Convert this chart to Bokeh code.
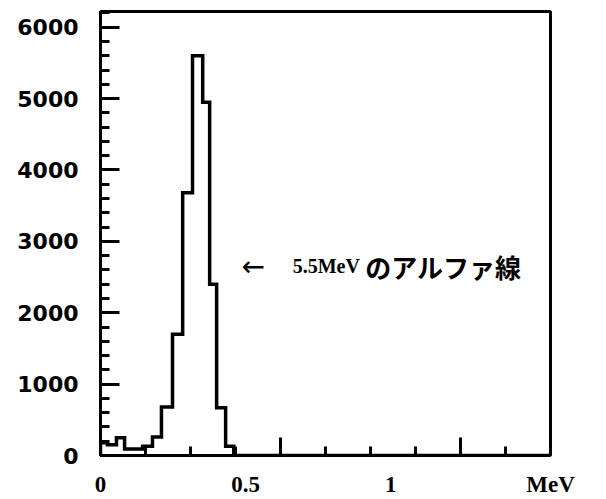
from bokeh.plotting import figure
from bokeh.models import FixedTicker, SingleIntervalTicker, LinearAxis, Range1d, Label
from bokeh.embed import file_html
from bokeh.resources import INLINE

# ---- data ----
bin_edges = [0.0, 0.024, 0.055, 0.083, 0.114, 0.145, 0.179, 0.210, 0.248,
             0.283, 0.317, 0.352, 0.376, 0.400, 0.431, 0.459]
counts = [180, 150, 250, 90, 90, 130, 260, 680, 1700, 3680, 5600, 4950, 2400, 670, 130]

x_label_ticks = [0.0, 0.5, 1.0]
x_label_texts = ["0", "0.5", "1"]
X_MAX = 1.55
Y_MAX = 6220
y_major_interval = 1000
y_minor_count = 5
x_tick_divisions = 10
x_tall_every = 4

annot_arrow = "←"
annot_energy = "5.5MeV"
annot_jp = "のアルファ線"
unit_text = "MeV"

# ---- figure ----
p = figure(width=606, height=499, output_backend="svg", toolbar_location=None,
           x_range=Range1d(0, X_MAX), y_range=Range1d(0, Y_MAX),
           min_border_left=100, min_border_right=56, min_border_top=11, min_border_bottom=43)
p.background_fill_color = "white"
p.border_fill_color = "white"
p.xgrid.visible = False
p.ygrid.visible = False
p.outline_line_color = "black"
p.outline_line_width = 3

# histogram outline as step path built from the data
xs, ys = [bin_edges[0]], [0]
for i, c in enumerate(counts):
    xs += [bin_edges[i], bin_edges[i + 1]]
    ys += [c, c]
xs += [bin_edges[-1], X_MAX]
ys += [0, 0]
p.line(xs, ys, line_color="black", line_width=3.5, line_join="miter")

# x tick marks (ticks only, nearest the frame)
step = X_MAX / x_tick_divisions
tall = [k * step for k in range(1, x_tick_divisions) if k % x_tall_every == 0]
short = [k * step for k in range(1, x_tick_divisions) if k % x_tall_every != 0]
xa = p.xaxis[0]
xa.ticker = FixedTicker(ticks=tall, minor_ticks=short)
xa.major_tick_in = 18
xa.major_tick_out = 0
xa.minor_tick_in = 9
xa.minor_tick_out = 0
xa.major_tick_line_width = 3
xa.minor_tick_line_width = 3
xa.axis_line_color = None
xa.major_label_text_font_size = "0px"
xa.major_label_standoff = 0
xa.major_label_overrides = {t: "" for t in tall}

# x labels (no tick marks); the unit sits at the right end of the axis
lab_ticks = x_label_ticks + [X_MAX]
lab_texts = x_label_texts + [unit_text]
xl = LinearAxis(ticker=FixedTicker(ticks=lab_ticks, minor_ticks=[]))
xl.major_label_overrides = dict(zip(lab_ticks, lab_texts))
xl.major_tick_in = 0
xl.major_tick_out = 0
xl.minor_tick_in = 0
xl.minor_tick_out = 0
xl.axis_line_color = None
xl.major_tick_line_color = None
xl.major_label_standoff = 16
xl.major_label_text_font = "Liberation Serif"
xl.major_label_text_font_style = "bold"
xl.major_label_text_font_size = "23px"
xl.major_label_text_color = "black"
p.add_layout(xl, "below")

# y axis
ya = p.yaxis[0]
ya.ticker = SingleIntervalTicker(interval=y_major_interval, num_minor_ticks=y_minor_count)
ya.major_tick_in = 19
ya.major_tick_out = 0
ya.minor_tick_in = 9
ya.minor_tick_out = 0
ya.major_tick_line_width = 3
ya.minor_tick_line_width = 3
ya.axis_line_width = 3
ya.major_label_standoff = 22
ya.major_label_text_font = "DejaVu Sans"
ya.major_label_text_font_style = "bold"
ya.major_label_text_font_size = "22px"
ya.major_label_text_color = "black"

# annotation
p.add_layout(Label(x=0.486, y=2650, text=annot_arrow, text_font="DejaVu Sans",
                   text_font_size="28px", text_baseline="middle",
                   text_align="left", text_color="black"))
p.add_layout(Label(x=0.662, y=2650, text=annot_energy, text_font="Liberation Serif",
                   text_font_style="bold", text_font_size="20px", text_baseline="middle",
                   text_align="left", text_color="black"))
p.add_layout(Label(x=0.912, y=2650, text=annot_jp, text_font="Noto Sans CJK JP",
                   text_font_style="bold", text_font_size="26px", text_baseline="middle",
                   text_align="left", text_color="black"))

open("out.html", "w").write(file_html(p, INLINE))
